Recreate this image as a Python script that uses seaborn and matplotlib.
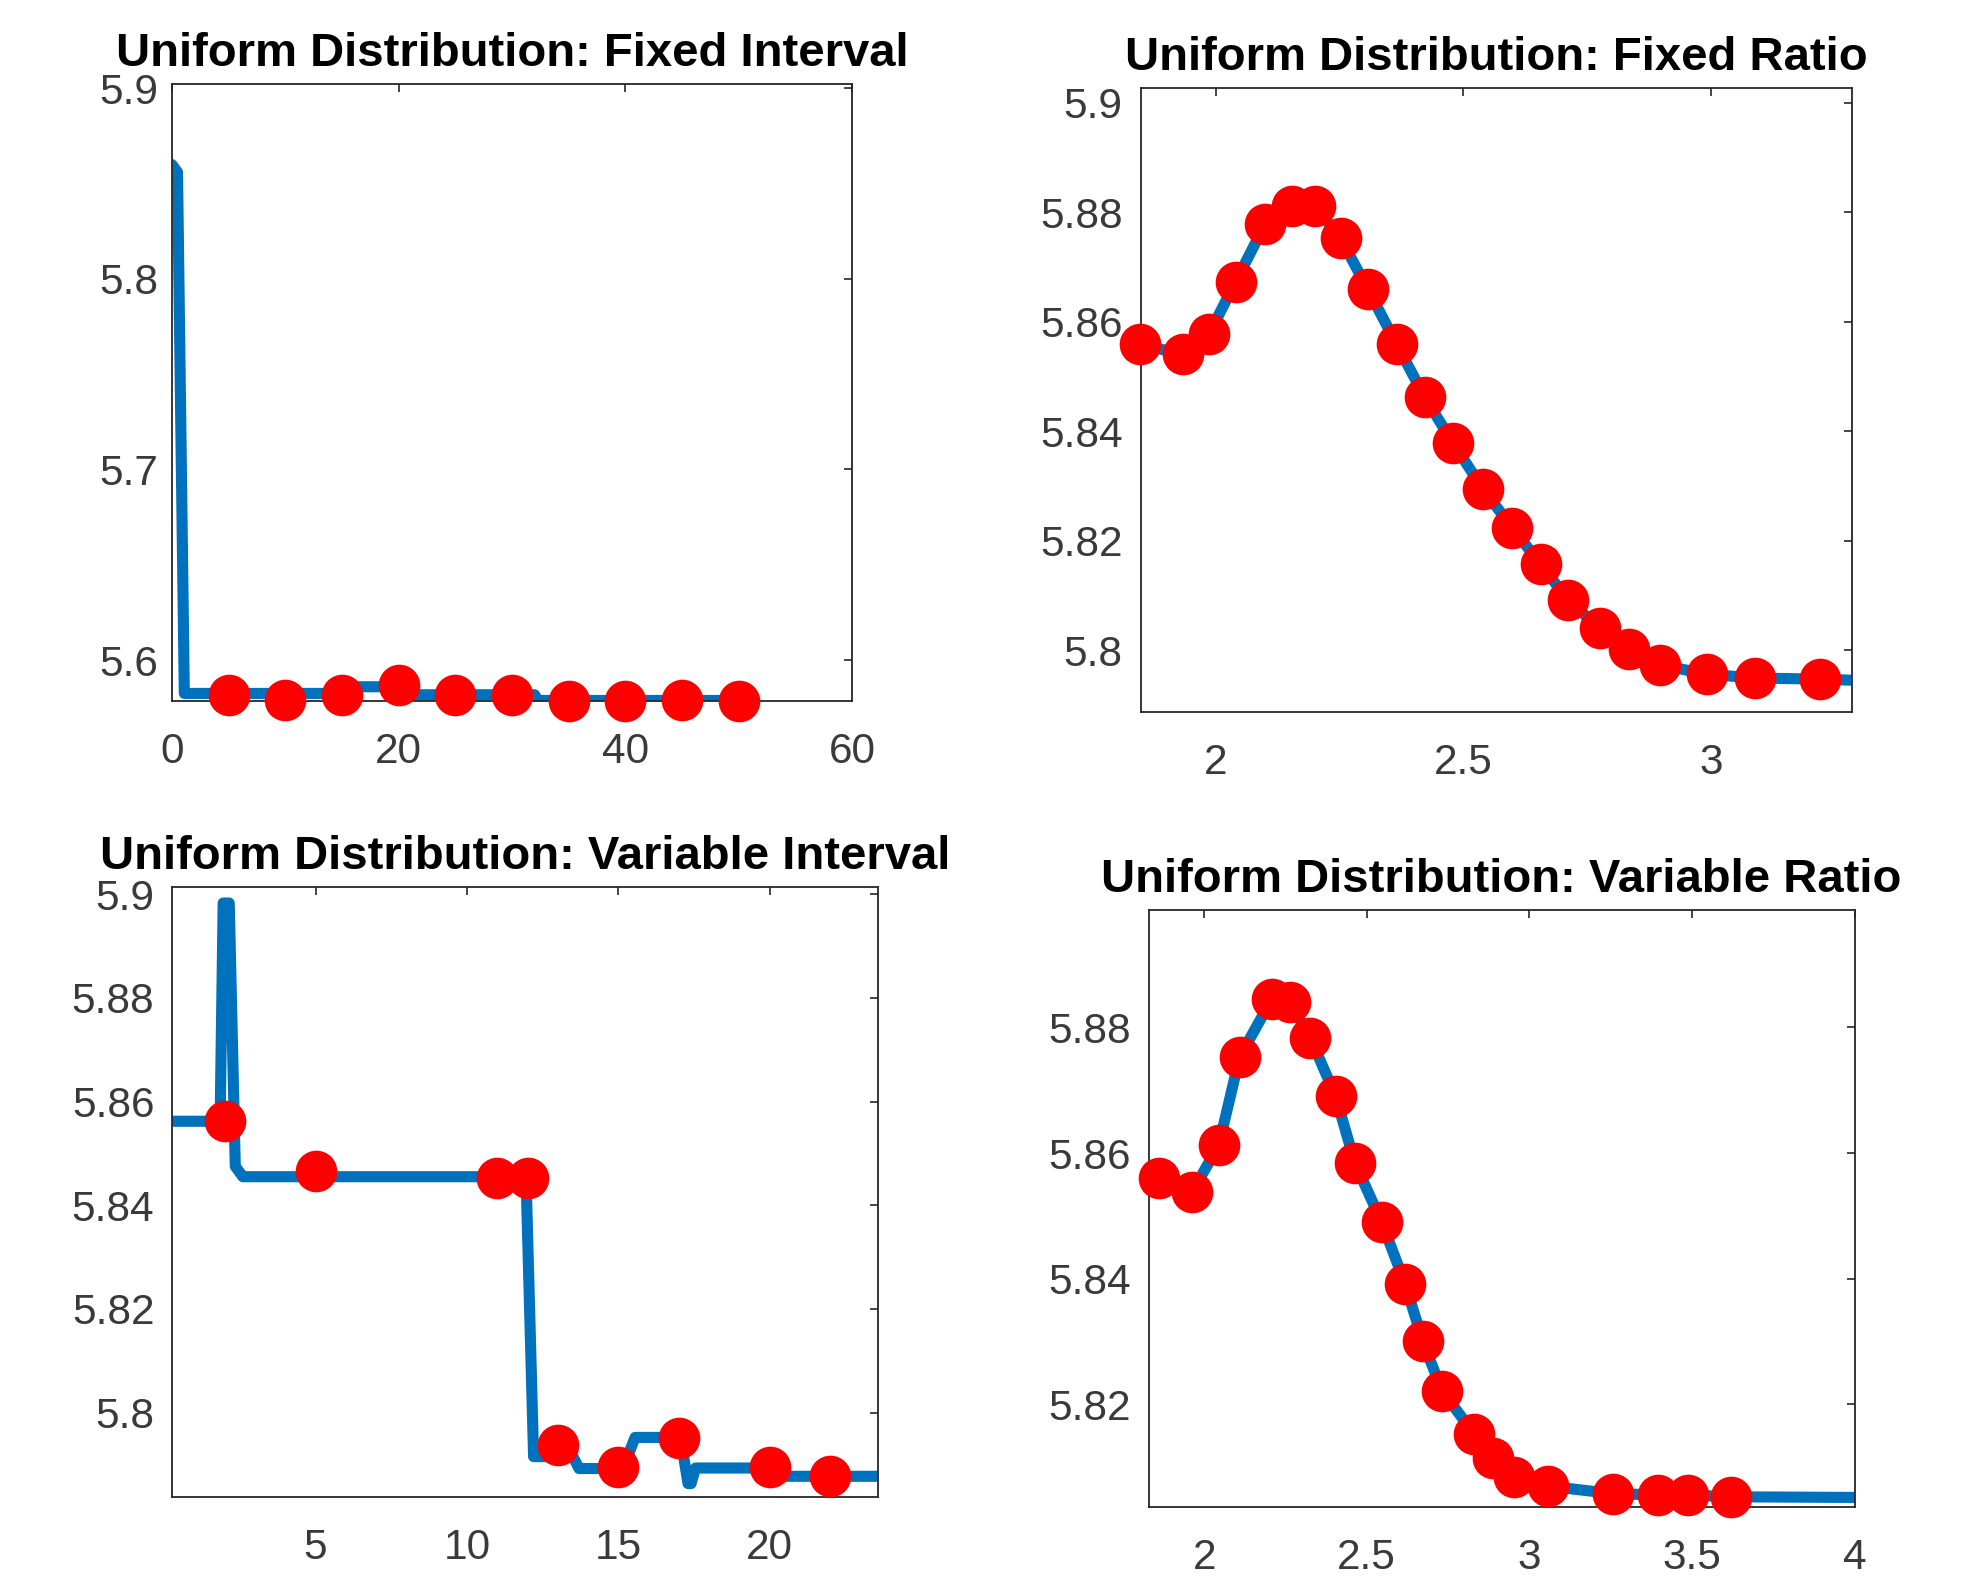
import matplotlib
matplotlib.use('Agg')
import matplotlib.pyplot as plt
import seaborn as sns

# Fixed Interval
fi_line_x = [0, 0.5, 1.1, 15.2, 15.5, 20.2, 20.5, 32.0, 32.3, 50.0]
fi_line_y = [5.860, 5.856, 5.5825, 5.5825, 5.586, 5.586, 5.5818, 5.5818, 5.5788, 5.5788]
fi_x = [5, 10, 15, 20, 25, 30, 35, 40, 45, 50]
fi_y = [5.5817, 5.5792, 5.5817, 5.5868, 5.5817, 5.5817, 5.5787, 5.5787, 5.5792, 5.5787]

# Fixed Ratio
fr_x = [1.846, 1.933, 1.986, 2.040, 2.100, 2.153, 2.200, 2.252, 2.307, 2.365, 2.422,
        2.479, 2.540, 2.599, 2.656, 2.712, 2.775, 2.834, 2.898, 2.992, 3.090, 3.221]
fr_y = [5.8559, 5.8540, 5.8577, 5.8673, 5.8779, 5.8811, 5.8811, 5.8752, 5.8659, 5.8559, 5.8462,
        5.8378, 5.8294, 5.8223, 5.8157, 5.8091, 5.8040, 5.8002, 5.7973, 5.7956, 5.7949, 5.7947]
fr_line_x = fr_x + [3.285]
fr_line_y = fr_y + [5.7945]

# Variable Interval
vi_line_x = [0.275, 1.85, 1.95, 2.15, 2.35, 2.6, 11.95, 12.2, 13.5, 13.7, 15.15, 15.55,
             17.05, 17.3, 17.4, 17.55, 20.0, 20.1, 23.56]
vi_line_y = [5.8562, 5.8562, 5.8983, 5.8983, 5.8475, 5.8455, 5.8455, 5.7915, 5.7915, 5.7892,
             5.7892, 5.7952, 5.7952, 5.7863, 5.7863, 5.7893, 5.7893, 5.7877, 5.7877]
vi_x = [2, 5, 11, 12, 13, 15, 17, 20, 22]
vi_y = [5.8562, 5.8466, 5.8452, 5.8452, 5.7937, 5.7895, 5.7950, 5.7895, 5.7878]

# Variable Ratio
vr_x = [1.861, 1.963, 2.045, 2.109, 2.209, 2.264, 2.326, 2.404, 2.463, 2.546, 2.618,
        2.672, 2.732, 2.831, 2.889, 2.953, 3.058, 3.257, 3.396, 3.488, 3.621]
vr_y = [5.8560, 5.8538, 5.8613, 5.8753, 5.8846, 5.8840, 5.8784, 5.8691, 5.8585, 5.8490, 5.8392,
        5.8301, 5.8221, 5.8153, 5.8115, 5.8085, 5.8070, 5.8058, 5.8056, 5.8056, 5.8053]
vr_line_x = vr_x + [4.0]
vr_line_y = vr_y + [5.8052]

titles = ['Uniform Distribution: Fixed Interval', 'Uniform Distribution: Fixed Ratio',
          'Uniform Distribution: Variable Interval', 'Uniform Distribution: Variable Ratio']

fi_xticks = [0, 20, 40, 60]
fi_yticks = [5.6, 5.7, 5.8, 5.9]
fi_yticklabels = ['5.6', '5.7', '5.8', '5.9']
fr_xticks = [2, 2.5, 3]
fr_xticklabels = ['2', '2.5', '3']
fr_yticks = [5.8, 5.82, 5.84, 5.86, 5.88, 5.9]
fr_yticklabels = ['5.8', '5.82', '5.84', '5.86', '5.88', '5.9']
vi_xticks = [5, 10, 15, 20]
vi_yticks = [5.8, 5.82, 5.84, 5.86, 5.88, 5.9]
vi_yticklabels = ['5.8', '5.82', '5.84', '5.86', '5.88', '5.9']
vr_xticks = [2, 2.5, 3, 3.5, 4]
vr_xticklabels = ['2', '2.5', '3', '3.5', '4']
vr_yticks = [5.82, 5.84, 5.86, 5.88]
vr_yticklabels = ['5.82', '5.84', '5.86', '5.88']

sns.set_style('white')
plt.rcParams['font.family'] = ['Liberation Sans', 'DejaVu Sans']

BLUE = '#0072BD'
RED = '#FF0000'

fig = plt.figure(figsize=(19.82, 15.85), dpi=100)

panels = [
    dict(rect=[0.0867, 0.5577, 0.3432, 0.3890], lx=fi_line_x, ly=fi_line_y, mx=fi_x, my=fi_y,
         xlim=(0, 60), ylim=(5.5785, 5.902), xt=fi_xticks, xtl=[str(v) for v in fi_xticks],
         yt=fi_yticks, ytl=fi_yticklabels, ypad=10),
    dict(rect=[0.5755, 0.5508, 0.3589, 0.3938], lx=fr_line_x, ly=fr_line_y, mx=fr_x, my=fr_y,
         xlim=(1.848, 3.285), ylim=(5.7887, 5.9027), xt=fr_xticks, xtl=fr_xticklabels,
         yt=fr_yticks, ytl=fr_yticklabels, ypad=13),
    dict(rect=[0.0870, 0.0555, 0.3558, 0.3849], lx=vi_line_x, ly=vi_line_y, mx=vi_x, my=vi_y,
         xlim=(0.275, 23.56), ylim=(5.7837, 5.9014), xt=vi_xticks, xtl=[str(v) for v in vi_xticks],
         yt=vi_yticks, ytl=vi_yticklabels, ypad=13),
    dict(rect=[0.5795, 0.0489, 0.3562, 0.3770], lx=vr_line_x, ly=vr_line_y, mx=vr_x, my=vr_y,
         xlim=(1.829, 4.0), ylim=(5.8036, 5.8987), xt=vr_xticks, xtl=vr_xticklabels,
         yt=vr_yticks, ytl=vr_yticklabels, ypad=13),
]

for p, title in zip(panels, titles):
    ax = fig.add_axes(p['rect'])
    sns.lineplot(x=p['lx'], y=p['ly'], ax=ax, color=BLUE, linewidth=8,
                 sort=False, estimator=None, zorder=2)
    sns.scatterplot(x=p['mx'], y=p['my'], ax=ax, color=RED, s=900, linewidth=0,
                    clip_on=False, zorder=3)
    ax.set_xlim(p['xlim'])
    ax.set_ylim(p['ylim'])
    ax.set_xticks(p['xt'], p['xtl'])
    ax.set_yticks(p['yt'], p['ytl'])
    ax.tick_params(direction='in', top=True, right=True, length=6, width=1.2,
                   color='#262626', labelcolor='#3a3a3a', labelsize=30.5)
    ax.tick_params(axis='x', pad=22)
    ax.tick_params(axis='y', pad=p['ypad'])
    for sp in ax.spines.values():
        sp.set_visible(True)
        sp.set_color('#262626')
        sp.set_linewidth(1.3)
    ax.set_title(title, fontsize=34, fontweight='bold', color='black', pad=13)

fig.savefig('out.png', dpi=100)
